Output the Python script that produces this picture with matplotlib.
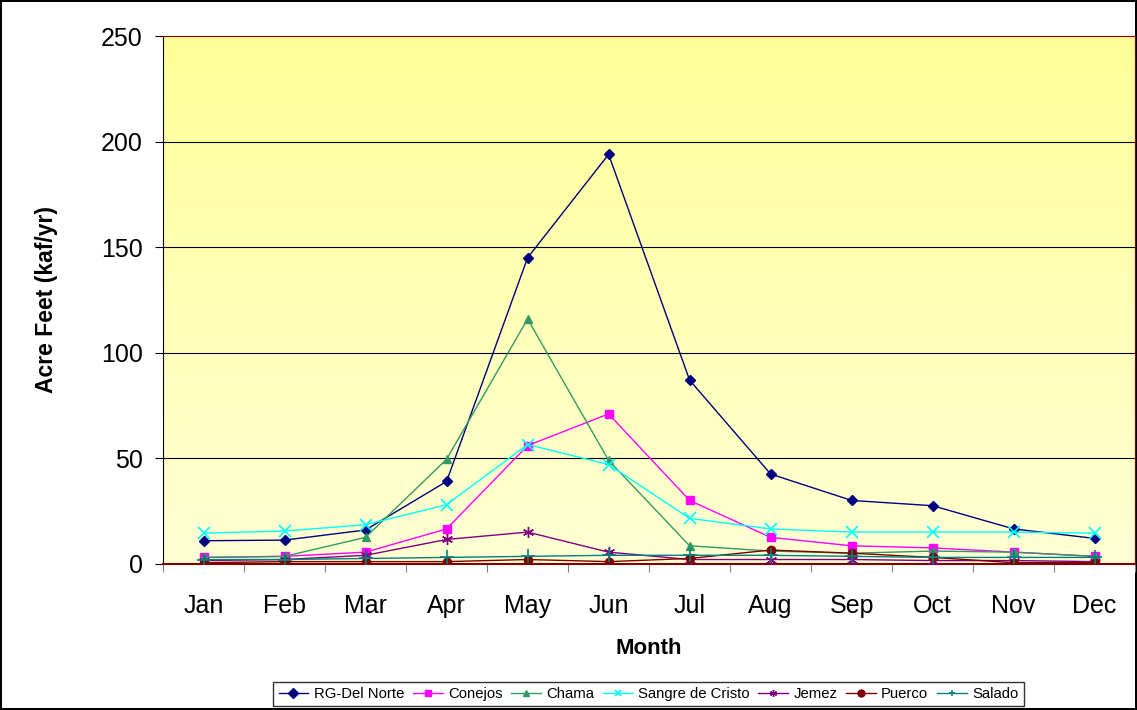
import matplotlib
matplotlib.use("Agg")
import matplotlib.pyplot as plt
import numpy as np
from matplotlib.colors import LinearSegmentedColormap

plt.rcParams['font.family'] = ['Liberation Sans', 'DejaVu Sans']

months = ["Jan", "Feb", "Mar", "Apr", "May", "Jun",
          "Jul", "Aug", "Sep", "Oct", "Nov", "Dec"]

rg_del_norte = [10.9, 11.2, 16.0, 39.0, 145.0, 194.0, 87.0, 42.5, 30.0, 27.5, 16.5, 12.0]
conejos = [3.0, 3.5, 5.5, 16.5, 56.0, 71.0, 30.0, 12.5, 8.5, 7.5, 5.5, 3.5]
chama = [3.0, 3.5, 12.5, 49.5, 116.0, 49.0, 8.5, 6.0, 5.0, 6.0, 5.5, 3.5]
sangre_de_cristo = [14.5, 15.5, 18.5, 28.0, 56.5, 47.0, 21.5, 16.5, 15.0, 15.0, 15.0, 14.5]
jemez = [1.5, 2.0, 4.0, 11.5, 15.0, 5.5, 2.0, 2.0, 2.0, 1.5, 1.5, 1.0]
puerco = [0.5, 1.0, 1.0, 1.0, 2.0, 1.0, 2.5, 6.5, 5.0, 3.0, 0.5, 0.5]
salado = [2.0, 2.0, 2.5, 3.0, 3.5, 4.0, 4.0, 4.0, 3.5, 3.0, 3.0, 3.0]

fig = plt.figure(figsize=(11.37, 7.10), dpi=100)
fig.patch.set_edgecolor("black")
fig.patch.set_linewidth(1.5)
ax = fig.add_axes([0.1434, 0.206, 0.855, 0.743])

x = np.arange(1, 13)

# yellow gradient background
grad = np.linspace(0, 1, 256).reshape(-1, 1)
cmap = LinearSegmentedColormap.from_list("bg", ["#FFFFD4", "#FFFF99"])
ax.imshow(grad, cmap=cmap, aspect="auto", extent=[0.5, 12.5, 0, 250],
          origin="lower", zorder=0)

for yv in [50, 100, 150, 200]:
    ax.axhline(yv, color="black", lw=0.8, zorder=1)

ax.plot(x, rg_del_norte, color="#000080", marker="D", ms=5, lw=1, label="RG-Del Norte", zorder=3)
ax.plot(x, conejos, color="#FF00FF", marker="s", ms=6, lw=1, label="Conejos", zorder=3)
ax.plot(x, chama, color="#339966", marker="^", ms=6, lw=1, label="Chama", zorder=3)
ax.plot(x, sangre_de_cristo, color="#00FFFF", marker="x", ms=8, mew=1.2, lw=1, label="Sangre de Cristo", zorder=3)
ax.plot(x, jemez, color="#800080", marker=(6, 2, 0), ms=8, mew=1, lw=1, label="Jemez", zorder=3)
ax.plot(x, puerco, color="#800000", marker="o", ms=6, lw=1, label="Puerco", zorder=3)
ax.plot(x, salado, color="#008080", marker="+", ms=10, mew=1.2, lw=1, label="Salado", zorder=3)

ax.set_xlim(0.5, 12.5)
ax.set_ylim(0, 250)
ax.set_xticks(np.arange(0.5, 13, 1))
ax.set_xticklabels([])
ax.set_xticks(x, minor=True)
ax.set_xticklabels(months, minor=True, fontsize=18)
ax.tick_params(axis="x", which="minor", length=0, pad=22)
ax.tick_params(axis="x", which="major", length=6, direction="out", color="gray")
ax.set_yticks([0, 50, 100, 150, 200, 250])
ax.tick_params(axis="y", labelsize=18, length=6, direction="out", pad=8.5)

ax.spines["top"].set_color("#800000")
ax.spines["right"].set_color("#800000")
ax.spines["bottom"].set_color("#800000")
ax.spines["bottom"].set_linewidth(1.5)

ax.set_xlabel("Month", fontsize=16, fontweight="bold", labelpad=14)
ax.set_ylabel("Acre Feet (kaf/yr)", fontsize=16.5, fontweight="bold", labelpad=31)

leg = fig.legend(loc="center", bbox_to_anchor=(0.5704, 0.0225), ncol=7, fontsize=10.7,
                 frameon=True, fancybox=False, edgecolor="black", handlelength=2.0,
                 handletextpad=0.35, columnspacing=0.6, borderpad=0.35, borderaxespad=0)
leg.get_frame().set_linewidth(1.0)
for h in leg.legend_handles:
    h.set_markersize(5)

fig.savefig("out.png", dpi=100)
